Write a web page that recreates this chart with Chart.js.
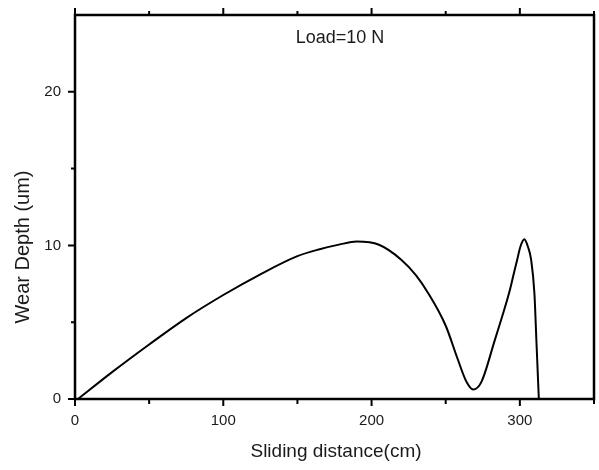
<!DOCTYPE html>
<html>
<head>
<meta charset="utf-8">
<title>Wear depth vs sliding distance</title>
<script src="https://cdn.jsdelivr.net/npm/chart.js@4.4.1/dist/chart.umd.min.js"></script>
<style>
    html, body { margin: 0; padding: 0; background: #fff; }
    #wrap { width: 599px; height: 470px; position: relative; }
</style>
</head>
<body>
<div id="wrap"><canvas id="wearChart"></canvas></div>
<script>
// Data
const distance = [2, 25, 50, 75, 100, 125, 150, 165, 178, 190, 205, 220, 230, 238, 250, 258, 264, 268.5, 274, 283, 288, 293, 296, 298.2, 300.4, 303, 305.4, 307.6, 309.8, 311.2, 312.8];
const wearDepth = [0, 1.75, 3.55, 5.27, 6.77, 8.12, 9.3, 9.75, 10.05, 10.25, 10.04, 9.07, 8.05, 6.92, 4.77, 2.62, 1.12, 0.62, 1.1, 3.8, 5.35, 7.0, 8.2, 9.07, 9.93, 10.4, 9.93, 9.07, 6.9, 3.7, 0];
const xTickLabels = [0, 100, 200, 300];
const yTickLabels = [0, 10, 20];
const annotation = 'Load=10 N';

const FONT = "'Liberation Sans', Arial, sans-serif";
const INK = '#1a1a1a';

// Frame, minor/major tick marks and the texts
const framePlugin = {
    id: 'frame',
    afterDraw(chart) {
        const { ctx, chartArea: a, scales: { x, y } } = chart;
        ctx.save();
        ctx.strokeStyle = '#000';
        ctx.lineWidth = 2.5;
        ctx.strokeRect(a.left, a.top, a.right - a.left, a.bottom - a.top);

        ctx.lineWidth = 2;
        ctx.beginPath();
        for (let v = 0; v <= 350; v += 50) {
            const px = x.getPixelForValue(v);
            const major = xTickLabels.includes(v);
            ctx.moveTo(px, a.bottom);
            ctx.lineTo(px, a.bottom + (major ? 7 : 5));
            ctx.moveTo(px, a.top);
            ctx.lineTo(px, a.top - (major ? 7 : 4));
        }
        for (let v = 0; v <= 20; v += 5) {
            const py = y.getPixelForValue(v);
            const major = yTickLabels.includes(v);
            ctx.moveTo(a.left, py);
            ctx.lineTo(a.left - (major ? 7 : 4), py);
        }
        ctx.stroke();

        ctx.fillStyle = INK;
        ctx.textAlign = 'center';
        ctx.textBaseline = 'middle';
        ctx.font = '18px ' + FONT;
        ctx.fillText(annotation, 340, 38);

        ctx.font = '19px ' + FONT;
        ctx.fillText('Sliding distance(cm)', 336, 452);

        ctx.translate(23, 247);
        ctx.rotate(-Math.PI / 2);
        ctx.font = '20px ' + FONT;
        ctx.fillText('Wear Depth (um)', 0, 0);
        ctx.restore();
    }
};

const ctx = document.getElementById('wearChart').getContext('2d');
new Chart(ctx, {
    type: 'line',
    data: {
        datasets: [{
            data: distance.map((d, i) => ({ x: d, y: wearDepth[i] })),
            borderColor: '#000',
            borderWidth: 2,
            pointRadius: 0,
            fill: false,
            cubicInterpolationMode: 'monotone'
        }]
    },
    options: {
        responsive: true,
        maintainAspectRatio: false,
        animation: false,
        layout: { autoPadding: false, padding: { top: 12, right: 2, left: 0, bottom: 0 } },
        plugins: {
            legend: { display: false },
            tooltip: { enabled: false }
        },
        scales: {
            x: {
                type: 'linear',
                min: 0,
                max: 350,
                afterFit: s => { s.height = 71; },
                grid: { display: false },
                border: { display: false },
                ticks: {
                    stepSize: 50,
                    autoSkip: false,
                    maxRotation: 0,
                    padding: 5,
                    color: INK,
                    font: { family: FONT, size: 15 },
                    callback: v => xTickLabels.includes(v) ? String(v) : ''
                }
            },
            y: {
                min: 0,
                max: 25,
                afterFit: s => { s.width = 75; },
                grid: { display: false },
                border: { display: false },
                ticks: {
                    stepSize: 5,
                    autoSkip: false,
                    padding: 6,
                    color: INK,
                    font: { family: FONT, size: 15 },
                    callback: v => yTickLabels.includes(v) ? String(v) : ''
                }
            }
        }
    },
    plugins: [framePlugin]
});
</script>
</body>
</html>
